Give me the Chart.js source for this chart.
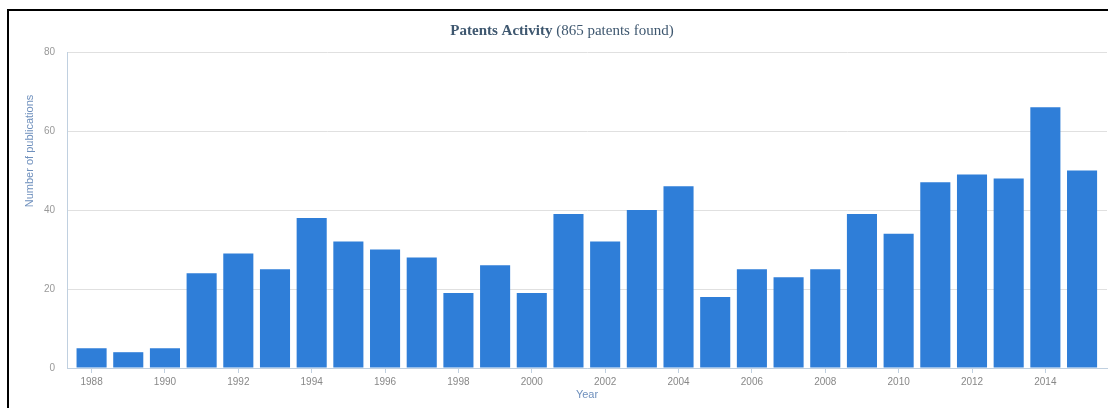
<!DOCTYPE html>
<html>
<head>
<meta charset="utf-8">
<script src="https://cdn.jsdelivr.net/npm/chart.js@4.4.1/dist/chart.umd.min.js"></script>
<style>
  html, body { margin: 0; padding: 0; background: #fff; }
  #wrap { position: relative; width: 1108px; height: 408px; overflow: hidden; }
  #frame { position: absolute; left: 7px; top: 9px; width: 1200px; height: 500px;
           border-left: 2px solid #000; border-top: 2px solid #000; }
  #c { position: absolute; left: 0; top: 0; }
</style>
</head>
<body>
<div id="wrap">
  <div id="frame"></div>
  <canvas id="c" width="1108" height="408"></canvas>
</div>
<script>
const years = [1988,1989,1990,1991,1992,1993,1994,1995,1996,1997,1998,1999,2000,2001,
               2002,2003,2004,2005,2006,2007,2008,2009,2010,2011,2012,2013,2014,2015];
const publications = [5,4,5,24,29,25,38,32,30,28,19,26,19,39,
                      32,40,46,18,25,23,25,39,34,47,49,48,66,50];
const xTickYears = [1988,1990,1992,1994,1996,1998,2000,2002,2004,2006,2008,2010,2012,2014];
const yTicks = [0,20,40,60,80];
const titleBold = 'Patents Activity';
const titleRest = ' (865 patents found)';
const yTitle = 'Number of publications';
const xTitle = 'Year';

const textPlugin = {
  id: 'texts',
  afterDraw(chart) {
    const ctx = chart.ctx;
    const area = chart.chartArea;
    ctx.save();
    const fb = 'bold 15px "Liberation Serif", "DejaVu Serif", serif';
    const fn = '15px "Liberation Serif", "DejaVu Serif", serif';
    ctx.font = fb; const w1 = ctx.measureText(titleBold).width;
    ctx.font = fn; const w2 = ctx.measureText(titleRest).width;
    const cx = 562;
    let x0 = cx - (w1 + w2) / 2;
    ctx.fillStyle = '#3e576f';
    ctx.textBaseline = 'middle';
    ctx.textAlign = 'left';
    ctx.font = fb; ctx.fillText(titleBold, x0, 31);
    ctx.font = fn; ctx.fillText(titleRest, x0 + w1, 31);
    ctx.save();
    ctx.translate(30, 151);
    ctx.rotate(-Math.PI / 2);
    ctx.textAlign = 'center';
    ctx.fillStyle = '#6f90bd';
    ctx.font = '11px "Liberation Sans", Arial, sans-serif';
    ctx.fillText(yTitle, 0, 0);
    ctx.restore();
    ctx.textAlign = 'center';
    ctx.fillStyle = '#6f90bd';
    ctx.font = '11px "Liberation Sans", Arial, sans-serif';
    ctx.fillText(xTitle, (area.left + area.right) / 2, 395);
    ctx.restore();
  }
};

new Chart(document.getElementById('c'), {
  type: 'bar',
  data: {
    datasets: [{
      data: years.map((y, i) => ({ x: y, y: publications[i] })),
      backgroundColor: '#2f7ed8',
      borderWidth: 0,
      barPercentage: 0.82,
      categoryPercentage: 1.0
    }]
  },
  options: {
    responsive: false,
    animation: false,
    devicePixelRatio: 1,
    layout: { padding: { left: 0, right: 1, top: 52, bottom: 0 } },
    plugins: { legend: { display: false }, tooltip: { enabled: false }, title: { display: false } },
    scales: {
      x: {
        type: 'linear',
        offset: false,
        min: 1987.33,
        max: 2015.68,
        afterFit(s) { s.height = 40; },
        afterBuildTicks(s) { s.ticks = xTickYears.map(v => ({ value: v })); },
        grid: { offset: false, drawOnChartArea: false, drawTicks: true, tickLength: 5, color: '#c0d0e0', tickColor: '#c0d0e0' },
        border: { display: true, color: '#c0d0e0', width: 1 },
        ticks: {
          autoSkip: false, maxRotation: 0, padding: 3,
          color: '#888',
          font: { size: 10, family: '"Liberation Sans", Arial, sans-serif' },
          callback: v => String(v)
        }
      },
      y: {
        min: 0, max: 80,
        afterFit(s) { s.width = 67; },
        afterBuildTicks(s) { s.ticks = yTicks.map(v => ({ value: v })); },
        grid: { color: '#e0e0e0', drawTicks: false, lineWidth: 1 },
        border: { display: true, color: '#c0d0e0', width: 1 },
        ticks: {
          padding: 12, color: '#999',
          font: { size: 10, family: '"Liberation Sans", Arial, sans-serif' }
        }
      }
    }
  },
  plugins: [textPlugin]
});
</script>
</body>
</html>
